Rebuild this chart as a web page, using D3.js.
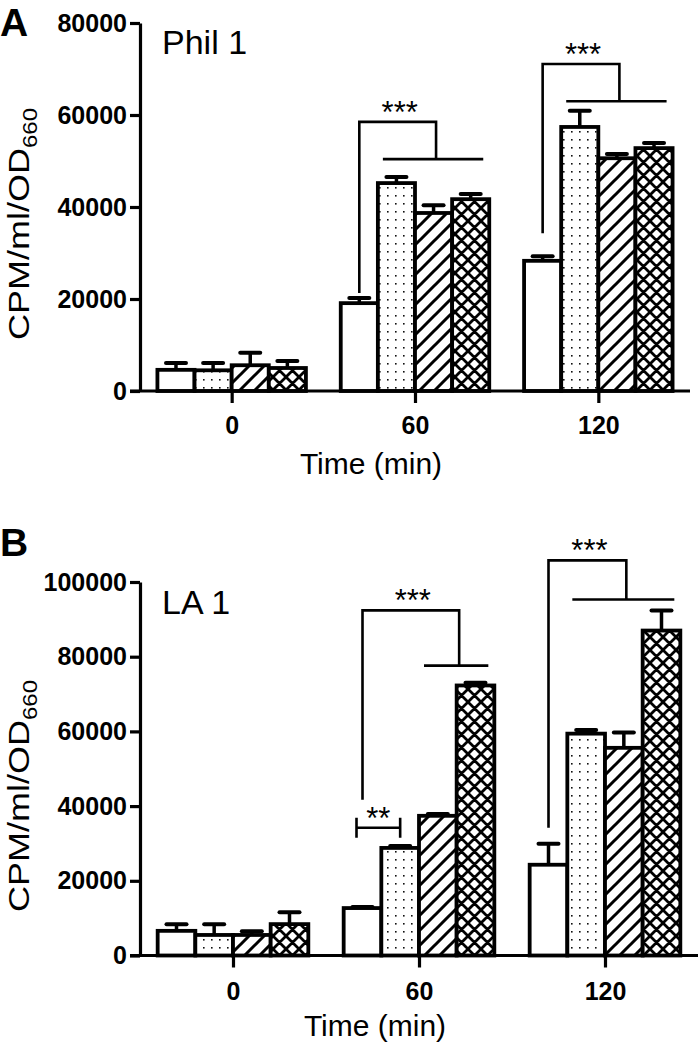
<!DOCTYPE html>
<html><head><meta charset="utf-8">
<script src="https://cdn.jsdelivr.net/npm/d3@7"></script>
<style>body{margin:0;background:#fff}svg{display:block}</style>
</head><body><svg id="c" width="700" height="1044"></svg>
<script>
// ---------- data ----------
const times = ["0", "60", "120"];
const seriesKeys = ["open", "dots", "hatch", "cross"];

// Panel A: Phil 1 (mean, SEM) per time
const philOpen = [4600, 19100, 28300];
const philOpenErr = [1500, 1100, 1000];
const philDots = [4500, 45200, 57400];
const philDotsErr = [1600, 1300, 3500];
const philHatch = [5600, 38700, 50600];
const philHatchErr = [2700, 1700, 900];
const philCross = [5000, 41700, 52800];
const philCrossErr = [1500, 1100, 1100];
const philTicks = [0, 20000, 40000, 60000, 80000];

// Panel B: LA 1
const laOpen = [6600, 12700, 24300];
const laOpenErr = [1800, 300, 5600];
const laDots = [5500, 28800, 59400];
const laDotsErr = [2900, 500, 1000];
const laHatch = [5500, 37400, 55600];
const laHatchErr = [1000, 500, 4100];
const laCross = [8400, 72300, 87000];
const laCrossErr = [3200, 700, 5400];
const laTicks = [0, 20000, 40000, 60000, 80000, 100000];

// significance brackets: left bar leg, grouped bars (from..to), levels in data units
const philBrackets = [
  {time: "60", left: 0, from: 1, to: 3, low: 21300, top: 58500, mid: 50400, label: "***"},
  {time: "120", left: 0, from: 1, to: 3, low: 34300, top: 71100, mid: 63000, label: "***"}
];
const laBrackets = [
  {time: "60", left: 0, from: 2, to: 3, low: 41700, top: 92400, mid: 77600, label: "***"},
  {time: "120", left: 0, from: 1, to: 3, low: 34200, top: 105800, mid: 95300, label: "***"}
];
const laPairs = [
  {time: "60", a: 0, b: 1, level: 34200, label: "**"}
];

// ---------- drawing ----------
const svg = d3.select("#c");
const defs = svg.append("defs");

// patterns
const pDots = defs.append("pattern").attr("id", "p-dots").attr("patternUnits", "userSpaceOnUse")
  .attr("width", 8).attr("height", 8);
pDots.append("rect").attr("width", 8).attr("height", 8).attr("fill", "#fff");
pDots.append("rect").attr("x", 3).attr("y", 3).attr("width", 1.6).attr("height", 1.6).attr("fill", "#111");

const pHatch = defs.append("pattern").attr("id", "p-hatch").attr("patternUnits", "userSpaceOnUse")
  .attr("width", 15).attr("height", 15);
pHatch.append("rect").attr("width", 15).attr("height", 15).attr("fill", "#fff");
pHatch.append("path").attr("d", "M-4,4 L4,-4 M0,15 L15,0 M11,19 L19,11")
  .attr("stroke", "#000").attr("stroke-width", 3);

const pCross = defs.append("pattern").attr("id", "p-cross").attr("patternUnits", "userSpaceOnUse")
  .attr("width", 13).attr("height", 13);
pCross.append("rect").attr("width", 13).attr("height", 13).attr("fill", "#fff");
pCross.append("path").attr("d", "M-3,3 L3,-3 M0,13 L13,0 M10,16 L16,10 M-3,10 L3,16 M0,0 L13,13 M10,-3 L16,3")
  .attr("stroke", "#000").attr("stroke-width", 2.8);

const fills = {open: "#fff", dots: "url(#p-dots)", hatch: "url(#p-hatch)", cross: "url(#p-cross)"};
const FONT = "'Liberation Sans', Arial, Helvetica, sans-serif";

function drawPanel(cfg) {
  const g = svg.append("g");
  const x = d3.scalePoint().domain(times).range([cfg.x0, cfg.x1]).padding(0.5);
  const gw = x.step() * 0.81;
  const xs = d3.scaleBand().domain(seriesKeys).range([-gw / 2, gw / 2]);
  const y = d3.scaleLinear().domain([0, cfg.max]).range([cfg.yBottom, cfg.yTop]);

  const rows = [];
  seriesKeys.forEach((k, si) => {
    times.forEach((t, ti) => {
      rows.push({key: k, time: t, v: cfg.means[si][ti], e: cfg.errs[si][ti]});
    });
  });

  // error bars
  const eb = g.append("g").attr("stroke", "#000");
  eb.selectAll("line.v").data(rows).join("line").attr("class", "v")
    .attr("x1", d => x(d.time) + xs(d.key) + xs.bandwidth() / 2)
    .attr("x2", d => x(d.time) + xs(d.key) + xs.bandwidth() / 2)
    .attr("y1", d => y(d.v)).attr("y2", d => y(d.v + d.e)).attr("stroke-width", 3.5);
  eb.selectAll("line.c").data(rows).join("line").attr("class", "c")
    .attr("x1", d => x(d.time) + xs(d.key) + xs.bandwidth() / 2 - 10)
    .attr("x2", d => x(d.time) + xs(d.key) + xs.bandwidth() / 2 + 10)
    .attr("y1", d => y(d.v + d.e)).attr("y2", d => y(d.v + d.e))
    .attr("stroke-width", 4).attr("stroke-linecap", "round");

  g.append("g").selectAll("rect").data(rows).join("rect")
    .attr("x", d => x(d.time) + xs(d.key))
    .attr("y", d => y(d.v))
    .attr("width", xs.bandwidth())
    .attr("height", d => y(0) - y(d.v))
    .attr("fill", d => fills[d.key])
    .attr("stroke", "#000").attr("stroke-width", 3.8);

  // brackets
  const bc = g.append("g").attr("stroke", "#000").attr("stroke-width", 2.6).attr("fill", "none");
  cfg.brackets.forEach(b => {
    const cx = k => x(b.time) + xs(seriesKeys[k]) + xs.bandwidth() / 2;
    const lx = cx(b.left);
    const hx0 = x(b.time) + xs(seriesKeys[b.from]) + 5;
    const hx1 = x(b.time) + xs(seriesKeys[b.to]) + xs.bandwidth() - 6;
    const rx = (hx0 + hx1) / 2 + 3;
    bc.append("path").attr("d",
      `M${lx},${y(b.low)} V${y(b.top)} H${rx} V${y(b.mid)}`);
    bc.append("path").attr("d", `M${hx0},${y(b.mid)} H${hx1}`);
    g.append("text").attr("x", (lx + rx) / 2 + 2).attr("y", y(b.top) + 1)
      .attr("text-anchor", "middle").attr("font-family", FONT).attr("font-size", 31)
      .text(b.label);
  });
  (cfg.pairs || []).forEach(p => {
    const cx = k => x(p.time) + xs(seriesKeys[k]) + xs.bandwidth() / 2;
    const a = cx(p.a) - 6, b = cx(p.b);
    const yy = y(p.level);
    bc.append("path").attr("d", `M${a},${yy - 10} V${yy + 10} M${a},${yy} H${b} M${b},${yy - 10} V${yy + 10}`);
    g.append("text").attr("x", (a + b) / 2).attr("y", yy + 1)
      .attr("text-anchor", "middle").attr("font-family", FONT).attr("font-size", 31)
      .text(p.label);
  });

  // axes
  const ya = g.append("g").attr("transform", `translate(${cfg.x0},0)`)
    .call(d3.axisLeft(y).tickValues(cfg.ticks).tickSize(10).tickSizeOuter(0).tickPadding(3)
      .tickFormat(d3.format("d")));
  ya.select(".domain").attr("stroke-width", 3.2);
  ya.selectAll(".tick line").attr("stroke-width", 3.2);
  ya.selectAll(".tick text").attr("font-family", FONT).attr("font-weight", "bold")
    .attr("font-size", 25).attr("fill", "#000");

  const xa = g.append("g").attr("transform", `translate(0,${y(0)})`)
    .call(d3.axisBottom(x).tickSize(12).tickSizeOuter(0).tickPadding(cfg.tickPad));
  xa.select(".domain").attr("d", `M${cfg.x0 - 10},0H${cfg.x1}`).attr("stroke-width", 3.2);
  xa.selectAll(".tick line").attr("stroke-width", 3.2);
  xa.selectAll(".tick text").attr("font-family", FONT).attr("font-weight", "bold")
    .attr("font-size", 25).attr("fill", "#000");

  g.append("text").attr("x", (cfg.x0 + cfg.x1) / 2 - 44).attr("y", cfg.xTitleY)
    .attr("text-anchor", "middle").attr("font-family", FONT).attr("font-size", 30)
    .text("Time (min)");

  // y title
  const yt = g.append("text").attr("font-family", FONT).attr("font-size", 30)
    .attr("text-anchor", "middle")
    .attr("transform", `translate(${cfg.yTitleX},${cfg.yTitleCY}) rotate(-90) scale(1.2,1)`);
  yt.append("tspan").text("CPM/ml/OD");
  yt.append("tspan").attr("font-size", 20).attr("dy", 8).text("660");

  g.append("text").attr("x", cfg.x0 + 22).attr("y", cfg.nameY)
    .attr("font-family", FONT).attr("font-size", 34).text(cfg.name);
  g.append("text").attr("x", 0).attr("y", cfg.letterY)
    .attr("font-family", FONT).attr("font-weight", "bold").attr("font-size", 39).text(cfg.letter);
}

drawPanel({
  x0: 140, x1: 690, yTop: 23, yBottom: 391, max: 80000, ticks: philTicks,
  means: [philOpen, philDots, philHatch, philCross],
  errs: [philOpenErr, philDotsErr, philHatchErr, philCrossErr],
  brackets: philBrackets, tickPad: 13, xTitleY: 474,
  yTitleX: 29, yTitleCY: 224, name: "Phil 1", nameY: 54, letter: "A", letterY: 36
});

drawPanel({
  x0: 140, x1: 698, yTop: 582, yBottom: 955.5, max: 100000, ticks: laTicks,
  means: [laOpen, laDots, laHatch, laCross],
  errs: [laOpenErr, laDotsErr, laHatchErr, laCrossErr],
  brackets: laBrackets, pairs: laPairs, tickPad: 15, xTitleY: 1036,
  yTitleX: 29, yTitleCY: 796, name: "LA 1", nameY: 614, letter: "B", letterY: 556
});
</script></body></html>
